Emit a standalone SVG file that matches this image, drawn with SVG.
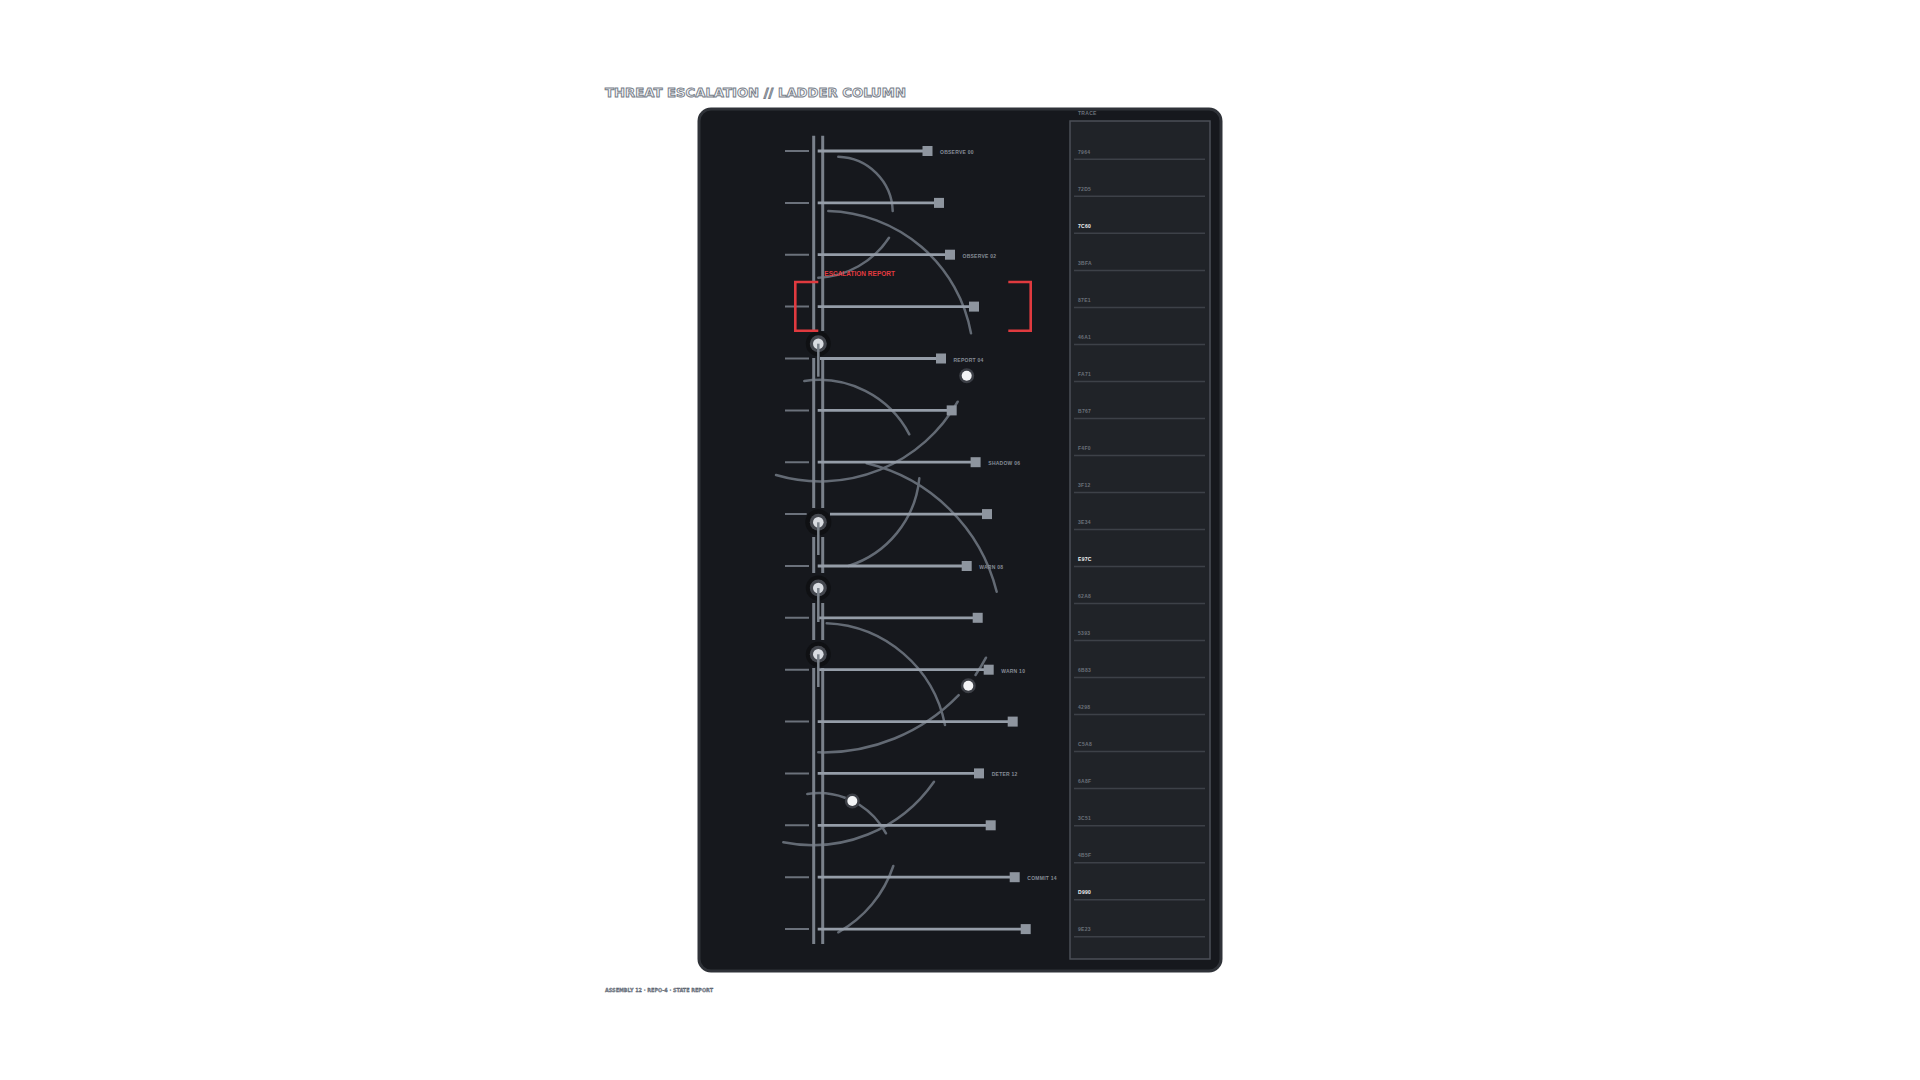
<svg xmlns="http://www.w3.org/2000/svg" width="1920" height="1080" viewBox="0 0 1920 1080">
<defs>
<style>
.title{font-family:"DejaVu Sans","Liberation Sans",sans-serif;font-weight:bold;fill:#f4f5f7;stroke:#767d88;stroke-width:0.9}
.foot{font-family:"DejaVu Sans","Liberation Sans",sans-serif;font-weight:bold;font-size:5.5px;fill:#8a919c;stroke:#4b5260;stroke-width:0.3}
.rail{stroke:#7a818b;stroke-width:3;fill:none}
.stub{stroke:#6b717b;stroke-width:2;fill:none}
.rung{stroke:#959da8;stroke-width:2.8;fill:none}
.sq{fill:#8e959f}
.arc{stroke:#636a74;stroke-width:2.5;fill:none;stroke-linecap:round}
.lbl{font-family:"Liberation Sans","DejaVu Sans",sans-serif;font-weight:bold;font-size:5px;fill:#858c96;letter-spacing:0.25px}
.tr{font-family:"Liberation Sans","DejaVu Sans",sans-serif;font-weight:bold;font-size:5px;fill:#6b717a;letter-spacing:0.3px}
.trh{fill:#f2f3f5}
.row{stroke:#3d4148;stroke-width:1.5}
.red{stroke:#e03a3f;stroke-width:2.6;fill:none}
.stem{stroke:#7c838c;stroke-width:2.5}
</style>
</defs>
<rect width="1920" height="1080" fill="#ffffff"/>
<text class="title" x="605" y="96.7" font-size="12.5" textLength="301" lengthAdjust="spacingAndGlyphs">THREAT ESCALATION // LADDER COLUMN</text>
<g id="panel">
<rect x="699" y="109" width="522" height="862" rx="12" fill="#16181d" stroke="#2f3238" stroke-width="3"/>
</g>
<g id="trace">
<rect x="1070" y="121" width="140" height="838" fill="#202328" stroke="#4b4f57" stroke-width="1.5"/>
<text class="tr" x="1078" y="114.5">TRACE</text>
<g>
<line class="row" x1="1074" y1="159.3" x2="1205" y2="159.3"/>
<line class="row" x1="1074" y1="196.3" x2="1205" y2="196.3"/>
<line class="row" x1="1074" y1="233.3" x2="1205" y2="233.3"/>
<line class="row" x1="1074" y1="270.4" x2="1205" y2="270.4"/>
<line class="row" x1="1074" y1="307.4" x2="1205" y2="307.4"/>
<line class="row" x1="1074" y1="344.4" x2="1205" y2="344.4"/>
<line class="row" x1="1074" y1="381.4" x2="1205" y2="381.4"/>
<line class="row" x1="1074" y1="418.4" x2="1205" y2="418.4"/>
<line class="row" x1="1074" y1="455.5" x2="1205" y2="455.5"/>
<line class="row" x1="1074" y1="492.5" x2="1205" y2="492.5"/>
<line class="row" x1="1074" y1="529.5" x2="1205" y2="529.5"/>
<line class="row" x1="1074" y1="566.5" x2="1205" y2="566.5"/>
<line class="row" x1="1074" y1="603.5" x2="1205" y2="603.5"/>
<line class="row" x1="1074" y1="640.6" x2="1205" y2="640.6"/>
<line class="row" x1="1074" y1="677.6" x2="1205" y2="677.6"/>
<line class="row" x1="1074" y1="714.6" x2="1205" y2="714.6"/>
<line class="row" x1="1074" y1="751.6" x2="1205" y2="751.6"/>
<line class="row" x1="1074" y1="788.6" x2="1205" y2="788.6"/>
<line class="row" x1="1074" y1="825.7" x2="1205" y2="825.7"/>
<line class="row" x1="1074" y1="862.7" x2="1205" y2="862.7"/>
<line class="row" x1="1074" y1="899.7" x2="1205" y2="899.7"/>
<line class="row" x1="1074" y1="936.7" x2="1205" y2="936.7"/>
</g>
<g>
<text class="tr" x="1078" y="153.5">7964</text>
<text class="tr" x="1078" y="190.5">72D5</text>
<text class="tr trh" x="1078" y="227.5">7C60</text>
<text class="tr" x="1078" y="264.6">3BFA</text>
<text class="tr" x="1078" y="301.6">87E1</text>
<text class="tr" x="1078" y="338.6">46A1</text>
<text class="tr" x="1078" y="375.6">FA71</text>
<text class="tr" x="1078" y="412.6">B767</text>
<text class="tr" x="1078" y="449.7">F4F0</text>
<text class="tr" x="1078" y="486.7">3F12</text>
<text class="tr" x="1078" y="523.7">3E34</text>
<text class="tr trh" x="1078" y="560.7">E97C</text>
<text class="tr" x="1078" y="597.7">62A8</text>
<text class="tr" x="1078" y="634.8">5393</text>
<text class="tr" x="1078" y="671.8">6B83</text>
<text class="tr" x="1078" y="708.8">4298</text>
<text class="tr" x="1078" y="745.8">C5A8</text>
<text class="tr" x="1078" y="782.8">6A8F</text>
<text class="tr" x="1078" y="819.9">3C51</text>
<text class="tr" x="1078" y="856.9">4B5F</text>
<text class="tr trh" x="1078" y="893.9">D990</text>
<text class="tr" x="1078" y="930.9">9E23</text>
</g>
</g>
<g id="connectors">
<g id="arcs">
<path class="arc" d="M838.3,156.7 A56,56 0 0 1 892.7,211"/>
<path class="arc" d="M828.3,211 A149,149 0 0 1 971,333.3"/>
<path class="arc" d="M889,237.7 A88.7,88.7 0 0 1 818.3,277.7"/>
<path class="arc" d="M804.3,381 A102,102 0 0 1 909.3,434.3"/>
<path class="arc" d="M776,475 A158,158 0 0 0 957.7,401.7"/>
<path class="arc" d="M866.7,463.3 A176,176 0 0 1 996.7,591.7"/>
<path class="arc" d="M919.3,478.3 A102,102 0 0 1 848.3,566"/>
<path class="arc" d="M826.7,623.3 A126,126 0 0 1 945,725"/>
<path class="arc" d="M986,657.7 A188,188 0 0 1 975.5,675"/>
<path class="arc" d="M958.7,695.1 A188,188 0 0 1 818.3,752.3"/>
<path class="arc" d="M807.3,794 A77,77 0 0 1 845,797.7"/>
<path class="arc" d="M859.4,804.8 A77,77 0 0 1 886,833.3"/>
<path class="arc" d="M934,781.7 A148,148 0 0 1 783.3,842.3"/>
<path class="arc" d="M893.3,866 A119,119 0 0 1 838.3,932.3"/>
</g>
<g id="rails">
<path class="rail" d="M813.7,135.7 V331 M822.7,135.7 V331 M813.7,358 V508 M822.7,358 V508 M813.7,537 V573 M822.7,537 V573 M813.7,603 V640 M822.7,603 V640 M813.7,668 V944 M822.7,668 V944"/>
</g>
<g id="stubs">
<path class="stub" d="M785,151 H809 M785,202.9 H809 M785,254.7 H809 M785,306.6 H809 M785,358.5 H809 M785,410.4 H809 M785,462.2 H809 M785,514.1 H806.7 M785,566 H809 M785,617.8 H809 M785,669.7 H809 M785,721.6 H809 M785,773.4 H809 M785,825.3 H809 M785,877.2 H809 M785,929.1 H809"/>
</g>
</g>
<g id="rung-00"><line class="rung" x1="817.7" y1="151" x2="927.5" y2="151"/><rect class="sq" x="922.5" y="146" width="10" height="10"/><text class="lbl" x="940" y="154">OBSERVE 00</text></g>
<g id="rung-01"><line class="rung" x1="817.7" y1="202.9" x2="939" y2="202.9"/><rect class="sq" x="934" y="197.9" width="10" height="10"/></g>
<g id="rung-02"><line class="rung" x1="817.7" y1="254.7" x2="950" y2="254.7"/><rect class="sq" x="945" y="249.7" width="10" height="10"/><text class="lbl" x="962.5" y="257.7">OBSERVE 02</text></g>
<g id="rung-03"><line class="rung" x1="817.7" y1="306.6" x2="974" y2="306.6"/><rect class="sq" x="969" y="301.6" width="10" height="10"/></g>
<g id="rung-04"><line class="rung" x1="820" y1="358.5" x2="941" y2="358.5"/><rect class="sq" x="936" y="353.5" width="10" height="10"/><text class="lbl" x="953.5" y="361.5">REPORT 04</text></g>
<g id="rung-05"><line class="rung" x1="817.7" y1="410.4" x2="951.7" y2="410.4"/><rect class="sq" x="946.7" y="405.4" width="10" height="10"/></g>
<g id="rung-06"><line class="rung" x1="817.7" y1="462.2" x2="975.6" y2="462.2"/><rect class="sq" x="970.6" y="457.2" width="10" height="10"/><text class="lbl" x="988.3" y="465.2">SHADOW 06</text></g>
<g id="rung-07"><line class="rung" x1="830" y1="514.1" x2="987" y2="514.1"/><rect class="sq" x="982" y="509.1" width="10" height="10"/></g>
<g id="rung-08"><line class="rung" x1="817.7" y1="566" x2="966.7" y2="566"/><rect class="sq" x="961.7" y="561" width="10" height="10"/><text class="lbl" x="979.3" y="569">WARN 08</text></g>
<g id="rung-09"><line class="rung" x1="817.7" y1="617.8" x2="977.7" y2="617.8"/><rect class="sq" x="972.7" y="612.8" width="10" height="10"/></g>
<g id="rung-10"><line class="rung" x1="817.7" y1="669.7" x2="988.7" y2="669.7"/><rect class="sq" x="983.7" y="664.7" width="10" height="10"/><text class="lbl" x="1001.2" y="672.7">WARN 10</text></g>
<g id="rung-11"><line class="rung" x1="817.7" y1="721.6" x2="1012.7" y2="721.6"/><rect class="sq" x="1007.7" y="716.6" width="10" height="10"/></g>
<g id="rung-12"><line class="rung" x1="817.7" y1="773.4" x2="979" y2="773.4"/><rect class="sq" x="974" y="768.4" width="10" height="10"/><text class="lbl" x="991.7" y="776.4">DETER 12</text></g>
<g id="rung-13"><line class="rung" x1="817.7" y1="825.3" x2="990.7" y2="825.3"/><rect class="sq" x="985.7" y="820.3" width="10" height="10"/></g>
<g id="rung-14"><line class="rung" x1="817.7" y1="877.2" x2="1014.7" y2="877.2"/><rect class="sq" x="1009.7" y="872.2" width="10" height="10"/><text class="lbl" x="1027.3" y="880.2">COMMIT 14</text></g>
<g id="rung-15"><line class="rung" x1="817.7" y1="929.1" x2="1025.7" y2="929.1"/><rect class="sq" x="1020.7" y="924.1" width="10" height="10"/></g>
<g id="knob-1"><circle cx="818.3" cy="343.7" r="12.5" fill="#0f1013"/><circle cx="818.3" cy="343.7" r="8.5" fill="#44474e"/><circle cx="818.3" cy="343.7" r="5.3" fill="#d9dce1"/><line class="stem" x1="818.3" y1="343.7" x2="818.3" y2="376.7"/></g>
<g id="knob-2"><circle cx="818.3" cy="522.3" r="13" fill="#0f1013"/><circle cx="818.3" cy="522.3" r="8.5" fill="#44474e"/><circle cx="818.3" cy="522.3" r="5.3" fill="#d9dce1"/><line class="stem" x1="818.3" y1="522.3" x2="818.3" y2="555"/></g>
<g id="knob-3"><circle cx="818.3" cy="588" r="12.5" fill="#0f1013"/><circle cx="818.3" cy="588" r="8.5" fill="#44474e"/><circle cx="818.3" cy="588" r="5.3" fill="#d9dce1"/><line class="stem" x1="818.3" y1="588" x2="818.3" y2="622"/></g>
<g id="knob-4"><circle cx="818.3" cy="654.3" r="12.5" fill="#0f1013"/><circle cx="818.3" cy="654.3" r="8.5" fill="#44474e"/><circle cx="818.3" cy="654.3" r="5.3" fill="#d9dce1"/><line class="stem" x1="818.3" y1="654.3" x2="818.3" y2="687"/></g>
<g id="dot-1"><circle cx="966.7" cy="375.7" r="7.5" fill="#3c3f46"/><circle cx="966.7" cy="375.7" r="5" fill="#f3f4f6"/></g>
<g id="dot-2"><circle cx="968.3" cy="685.7" r="7.5" fill="#3c3f46"/><circle cx="968.3" cy="685.7" r="5" fill="#f3f4f6"/></g>
<g id="dot-3"><circle cx="852.3" cy="801" r="7.5" fill="#3c3f46"/><circle cx="852.3" cy="801" r="5" fill="#f3f4f6"/></g>
<g id="escalation-report">
<path class="red" d="M818.3,282 H795.3 V330.7 H818.3"/>
<path class="red" d="M1008.3,282 H1030.7 V330.7 H1008.3"/>
<text x="824.3" y="275.8" font-family="Liberation Sans, DejaVu Sans, sans-serif" font-weight="bold" font-size="6.5" fill="#e23b40">ESCALATION REPORT</text>
</g>
<text class="foot" x="605" y="991.5" textLength="108" lengthAdjust="spacingAndGlyphs">ASSEMBLY 12 · REPO-4 · STATE REPORT</text>
</svg>
